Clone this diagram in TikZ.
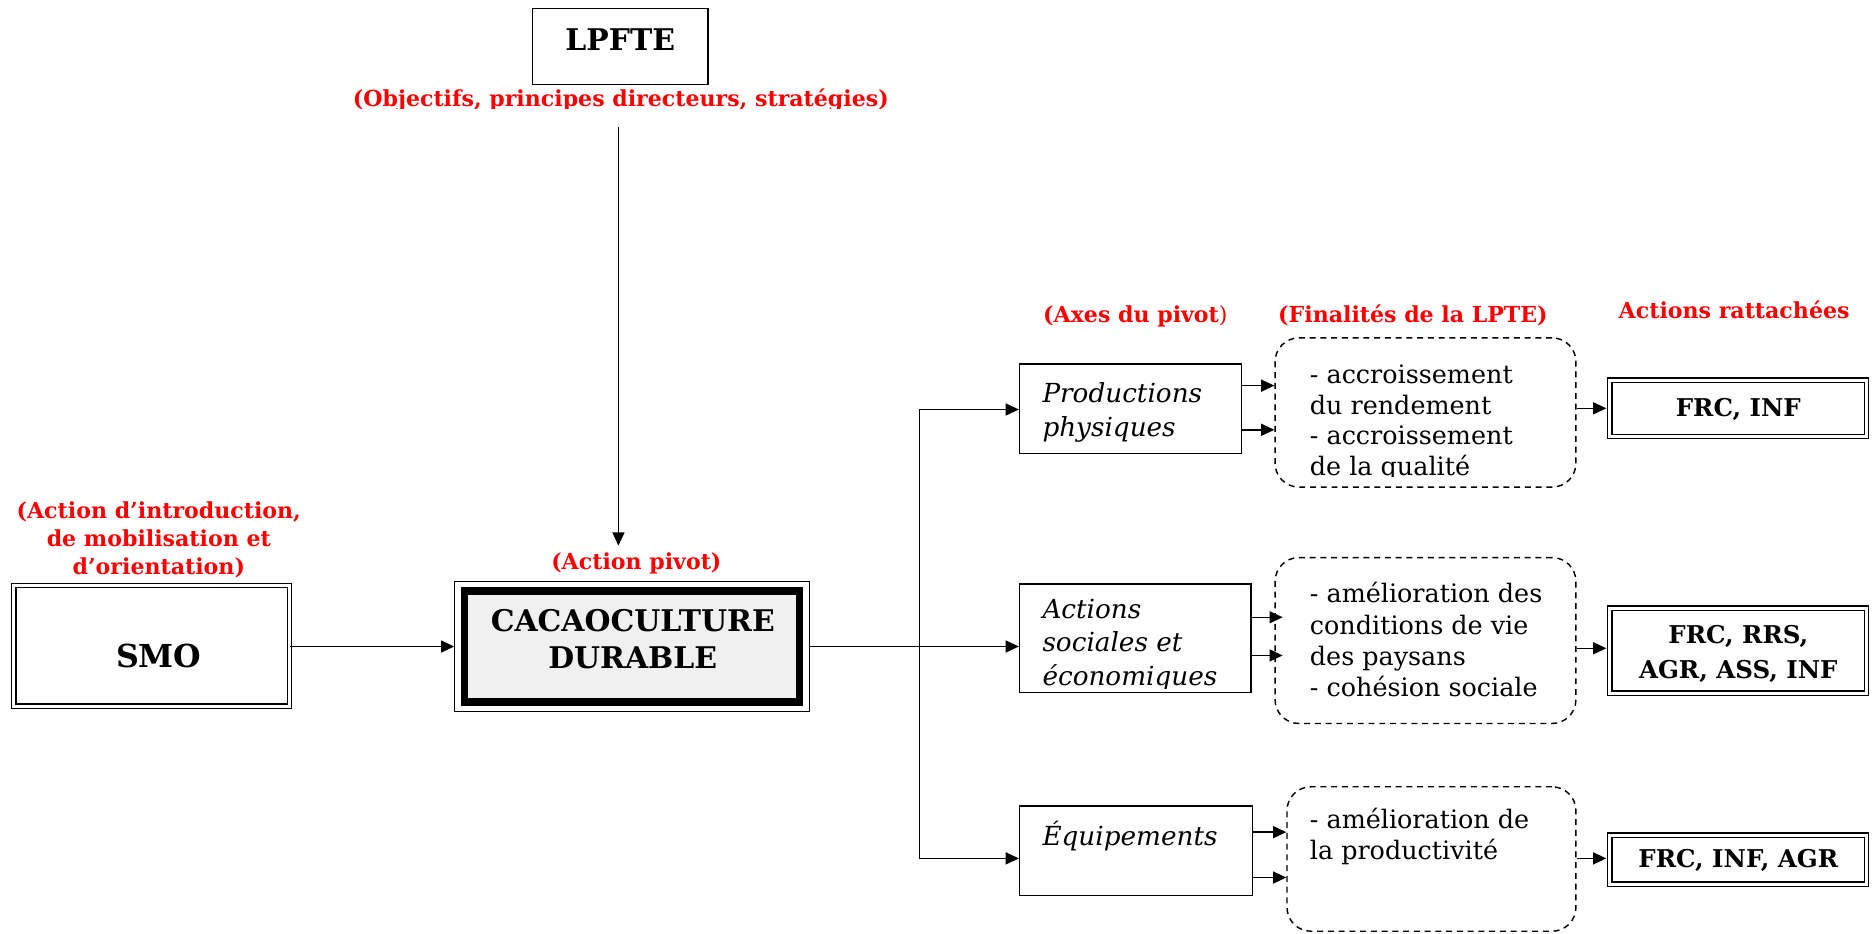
\documentclass[tikz,border=0pt]{standalone}
\usepackage{fontspec}
\setmainfont{DejaVu Serif}
\usetikzlibrary{arrows.meta}
\definecolor{lblred}{RGB}{255,0,0}
\definecolor{pivotgray}{RGB}{240,240,240}
\begin{document}
\begin{tikzpicture}[x=1pt,y=-1pt,
  conn/.style={line width=1.2pt},
  arr/.style={conn,-{Triangle[length=11pt,width=10pt]}},
  redlbl/.style={text=lblred,font=\fontsize{18.5}{23.5}\selectfont\bfseries,align=center,inner sep=0pt},
  plainbox/.style={draw,line width=1.2pt,inner sep=0pt},
  dblbox/.style={draw,line width=1.1pt,double=white,double distance=2.5pt,inner sep=0pt},
  dashbox/.style={draw,line width=1.2pt,dash pattern=on 5pt off 4pt,rounded corners=20pt,inner sep=0pt},
  boldtxt/.style={font=\fontsize{20.5}{29}\selectfont\bfseries,align=center,inner sep=0pt},
  bigtxt/.style={font=\fontsize{25}{31}\selectfont\bfseries,align=center,inner sep=0pt},
  itxt/.style={font=\fontsize{22}{28}\selectfont\itshape,align=left,inner sep=0pt},
  rtxt/.style={font=\fontsize{21.3}{25.5}\selectfont,align=left,inner sep=0pt},
]
\useasboundingbox (0,0) rectangle (1568,782);
\fill[white] (0,0) rectangle (1568,782);

% ---------- LPFTE ----------
\node[plainbox,minimum width=147pt,minimum height=64pt] (lpfte) at (519.5,39) {};
\node[bigtxt,anchor=base] (lpftetxt) at (519.5,42) {LPFTE};
\begin{scope}
  \clip (280,60) rectangle (760,91);
  \node[redlbl,anchor=base] (lpftesub) at (520,89) {(Objectifs, principes directeurs, stratégies)};
\end{scope}

% ---------- SMO ----------
\begin{scope}
  \clip (0,400) rectangle (270,483);
  \node[redlbl,anchor=base] (smolbl) at (133,481) {(Action d’introduction,\\de mobilisation et\\d’orientation)};
\end{scope}
\node[dblbox,minimum width=231pt,minimum height=101pt] (smo) at (127,541) {};
\node[bigtxt,font=\fontsize{26.5}{31}\selectfont\bfseries,anchor=base] (smotxt) at (133,559) {SMO};

% ---------- CACAOCULTURE ----------
\node[redlbl,anchor=base] (pivotlbl) at (533,477) {(Action pivot)};
\node[draw,line width=6pt,fill=pivotgray,minimum width=281pt,minimum height=93pt,inner sep=0pt] (cacaoin) at (529.5,541.5) {};
\node[draw,line width=1pt,minimum width=297pt,minimum height=109pt,inner sep=0pt] (cacao) at (529.5,541.5) {};
\node[bigtxt,anchor=base] (cacaotxt) at (530,560) {CACAOCULTURE\\DURABLE};

% ---------- column headers ----------
\node[redlbl,anchor=base] (axeslbl) at (951,270) {(Axes du pivot{\mdseries)}};
\node[redlbl,anchor=base] (finlbl) at (1183.5,270) {(Finalités de la LPTE)};
\node[redlbl,anchor=base] (actlbl) at (1452.5,267) {Actions rattachées};

% ---------- axes boxes ----------
\node[plainbox,minimum width=186pt,minimum height=75pt] (prod) at (947,342.5) {};
\begin{scope}
  \clip (856,307) rectangle (1038,372);
  \node[itxt,anchor=base west] (prodtxt) at (873,365.5) {Productions\\physiques};
\end{scope}
\node[plainbox,minimum width=194pt,minimum height=91pt] (act) at (951,534.5) {};
\begin{scope}
  \clip (856,491) rectangle (1046,577);
  \node[itxt,anchor=base west] (acttxt) at (873,574) {Actions\\sociales et\\économiques};
\end{scope}
\node[plainbox,minimum width=195pt,minimum height=75pt] (equip) at (951.5,712.5) {};
\node[itxt,anchor=base west] (equiptxt) at (873,708) {Équipements};

% ---------- finalities (dashed) ----------
\node[dashbox,minimum width=252pt,minimum height=125pt] (d1) at (1194,345.5) {};
\begin{scope}
  \clip (1075,290) rectangle (1315,399);
  \node[rtxt,anchor=base west] (d1txt) at (1097,398) {- accroissement\\du rendement\\- accroissement\\de la qualité};
\end{scope}
\node[dashbox,minimum width=252pt,minimum height=139pt] (d2) at (1194,536.5) {};
\node[rtxt,font=\fontsize{21.3}{26.2}\selectfont,anchor=base west] (d2txt) at (1097,583.6) {- amélioration des\\conditions de vie\\des paysans\\- cohésion sociale};
\node[dashbox,minimum width=242pt,minimum height=121pt] (d3) at (1199,719.5) {};
\node[rtxt,anchor=base west] (d3txt) at (1097,719.5) {- amélioration de\\la productivité};

% ---------- attached actions ----------
\node[dblbox,minimum width=215pt,minimum height=47pt] (f1) at (1456,342) {};
\node[boldtxt,anchor=base] (f1txt) at (1456,349) {FRC, INF};
\node[dblbox,minimum width=215pt,minimum height=71pt] (f2) at (1456,545) {};
\node[boldtxt,anchor=base] (f2txt) at (1456,568) {FRC, RRS,\\AGR, ASS, INF};
\node[dblbox,minimum width=215pt,minimum height=41pt] (f3) at (1456,720) {};
\node[boldtxt,anchor=base] (f3txt) at (1456,727) {FRC, INF, AGR};

% ---------- connectors ----------
\coordinate (vtop) at (518,106);
\coordinate (vbot) at (518,457);
\draw[arr] (vtop) -- (vbot);
\draw[arr] (smo.east |- cacao.west) -- (cacao.west);

\coordinate (jt) at (770,343);
\coordinate (jb) at (770,719);
\draw[conn] (jt) -- (jb);
\draw[arr] (jt) -- (jt -| prod.west);
\draw[arr] (jb) -- (jb -| equip.west);
\draw[arr] (cacao.east) -- (cacao.east -| act.west);

\coordinate (l323) at (0,323);
\coordinate (l360) at (0,360);
\coordinate (l517) at (0,517);
\coordinate (l549) at (0,549);
\coordinate (l697) at (0,697);
\coordinate (l735) at (0,735);
\coordinate (l342) at (0,342);
\coordinate (l543) at (0,543);
\coordinate (l719) at (0,719);
\draw[arr] (prod.east |- l323) -- (d1.west |- l323);
\draw[arr] (prod.east |- l360) -- (d1.west |- l360);
\draw[arr,shorten >=-7pt] (act.east |- l517) -- (d2.west |- l517);
\draw[arr,shorten >=-7pt] (act.east |- l549) -- (d2.west |- l549);
\draw[arr] (equip.east |- l697) -- (d3.west |- l697);
\draw[arr] (equip.east |- l735) -- (d3.west |- l735);
\draw[arr,shorten >=2.5pt] (d1.east |- l342) -- (f1.west |- l342);
\draw[arr,shorten >=2.5pt] (d2.east |- l543) -- (f2.west |- l543);
\draw[arr,shorten >=2.5pt] (d3.east |- l719) -- (f3.west |- l719);
\end{tikzpicture}
\end{document}
